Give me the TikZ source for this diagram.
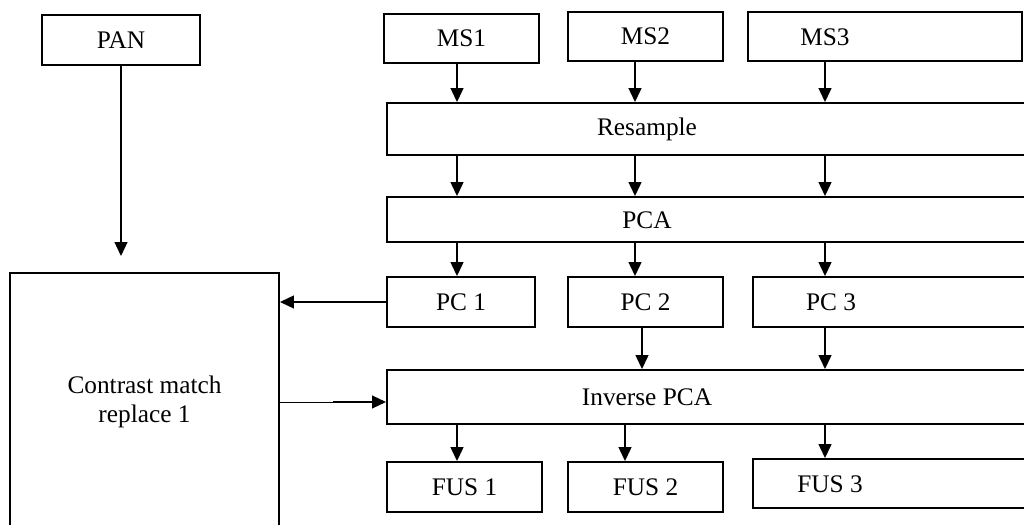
\documentclass[tikz,border=0pt]{standalone}
\usepackage{fontspec}
\setmainfont{Liberation Serif}
\usetikzlibrary{arrows.meta}

\begin{document}
\begin{tikzpicture}[->,>={Triangle[length=3.5mm,width=3.2mm]},x=0.025cm,y=-0.025cm,
                    line width=1.3pt,font=\fontsize{18}{21}\selectfont]
  \tikzstyle{block}=[draw,rectangle,inner sep=0pt]
  \tikzstyle{lbl}=[inner sep=0pt]

  \useasboundingbox (0,0) rectangle (1024,525);
  \clip (0,0) rectangle (1024,525);

  % left branch
  \node[block,minimum width=3.95cm,minimum height=1.25cm] (pan) at (121,40) {PAN};
  \node[block,minimum width=6.725cm,minimum height=6.45cm,align=center] (big) at (144.5,402)
       {Contrast match\\replace 1};

  % inputs
  \node[block,minimum width=3.875cm,minimum height=1.225cm] (ms1) at (461.5,38.5) {MS1};
  \node[block,minimum width=3.875cm,minimum height=1.225cm] (ms2) at (645.5,36.5) {MS2};
  \node[block,minimum width=6.85cm,minimum height=1.225cm]  (ms3) at (885,36.5) {};
  \node[lbl] (ms3t) at (825,37) {MS3};

  \node[block,minimum width=16.925cm,minimum height=1.3cm] (resample) at (725.5,129) {};
  \node[lbl] (resamplet) at (647,129) {Resample};
  \node[block,minimum width=16.925cm,minimum height=1.125cm] (pca) at (725.5,219.5) {};
  \node[lbl] (pcat) at (647,220) {PCA};

  \node[block,minimum width=3.7cm,minimum height=1.25cm]   (pc1) at (461,302) {PC 1};
  \node[block,minimum width=3.875cm,minimum height=1.25cm] (pc2) at (645.5,302) {PC 2};
  \node[block,minimum width=7.775cm,minimum height=1.25cm] (pc3) at (908.5,302) {};
  \node[lbl] (pc3t) at (831,302) {PC 3};

  \node[block,minimum width=16.925cm,minimum height=1.35cm] (inv) at (725.5,397) {};
  \node[lbl] (invt) at (647,397) {Inverse PCA};

  \node[block,minimum width=3.875cm,minimum height=1.25cm]  (fus1) at (464.5,487) {FUS 1};
  \node[block,minimum width=3.875cm,minimum height=1.25cm]  (fus2) at (645.5,487) {FUS 2};
  \node[block,minimum width=7.775cm,minimum height=1.225cm] (fus3) at (908.5,483.5) {};
  \node[lbl] (fus3t) at (830,484) {FUS 3};

  \coordinate (col1) at (457,0);
  \coordinate (col2) at (635,0);
  \coordinate (col3) at (825,0);
  \coordinate (pcol2) at (642,0);
  \coordinate (fcol2) at (625,0);
  \coordinate (mid)  at (333,402);

  \draw[shorten >=0.4cm] (pan.south) -- (pan.south |- big.north);
  \foreach \i in {1,2,3} {
    \draw (ms\i.south -| col\i) -- (resample.north -| col\i);
    \draw (resample.south -| col\i) -- (pca.north -| col\i);
    \draw (pca.south -| col\i) -- (pc\i.north -| col\i);
  }
  \draw (pc2.south -| pcol2) -- (inv.north -| pcol2);
  \draw (pc3.south -| col3) -- (inv.north -| col3);
  \draw (inv.south -| col1) -- (fus1.north -| col1);
  \draw (inv.south -| fcol2) -- (fus2.north -| fcol2);
  \draw (inv.south -| col3) -- (fus3.north -| col3);
  \draw (pc1.west) -- (pc1.west -| big.east);
  \draw[-,line width=0.6pt] (big.east) -- (mid);
  \draw (mid) -- (mid -| inv.west);
\end{tikzpicture}
\end{document}
